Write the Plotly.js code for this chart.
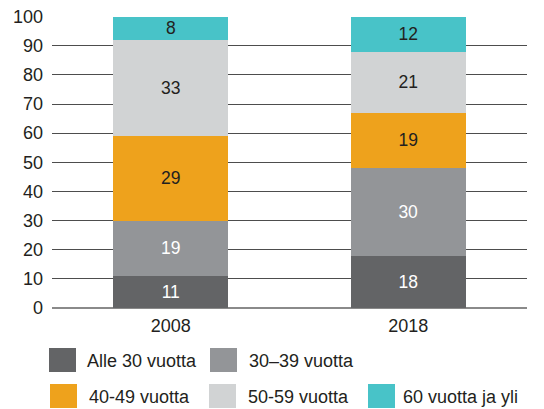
<!DOCTYPE html>
<html><head><meta charset="utf-8">
<script src="https://cdn.plot.ly/plotly-3.0.1.min.js"></script>
<style>html,body{margin:0;padding:0;background:#fff}#chart{width:544px;height:409px}</style>
</head><body><div id="chart"></div>
<script>
var years = ['2008', '2018'];
var seriesNames = ['Alle 30 vuotta', '30–39 vuotta', '40-49 vuotta', '50-59 vuotta', '60 vuotta ja yli'];
var alle30 = [11, 18];
var v30_39 = [19, 30];
var v40_49 = [29, 19];
var v50_59 = [33, 21];
var v60 = [8, 12];
var seriesValues = [alle30, v30_39, v40_49, v50_59, v60];
var colors = ['#636466', '#939598', '#EEA21C', '#D1D3D4', '#48C3C8'];
var textColors = ['#ffffff', '#ffffff', '#231f20', '#231f20', '#231f20'];
var yTicks = [0,10,20,30,40,50,60,70,80,90,100];

var FONT = 'Liberation Sans, Arial, sans-serif';
var traces = seriesValues.map(function(vals, i){
  return {
    type: 'bar', x: years, y: vals, name: seriesNames[i],
    marker: {color: colors[i], line: {width: 0}},
    text: vals.map(String), textposition: 'inside', insidetextanchor: 'middle',
    textangle: 0, constraintext: 'none',
    textfont: {family: FONT, size: 17.5, color: textColors[i]},
    hoverinfo: 'none', showlegend: false
  };
});

// custom legend (paper coords): plot area x 52..527, y 16..308
var L = 52, W = 475, B = 308, H = 292;
function px(x){ return (x - L) / W; }
function py(y){ return (B - y) / H; }
var legendPos = [
  {sx: 49, sy: 348, tx: 85, ty: 361},
  {sx: 210, sy: 348, tx: 247, ty: 361},
  {sx: 50, sy: 384, tx: 87, ty: 397},
  {sx: 209, sy: 384, tx: 246, ty: 397},
  {sx: 368, sy: 384, tx: 401, ty: 397}
];
var shapes = [], annotations = [];
legendPos.forEach(function(p, i){
  shapes.push({type: 'rect', xref: 'paper', yref: 'paper',
    x0: px(p.sx), x1: px(p.sx + 27), y0: py(p.sy + 24), y1: py(p.sy),
    fillcolor: colors[i], line: {width: 0}});
  annotations.push({xref: 'paper', yref: 'paper', x: px(p.tx), y: py(p.ty),
    xanchor: 'left', yanchor: 'middle', showarrow: false, text: seriesNames[i],
    font: {family: FONT, size: 18, color: '#231f20'}});
});

var layout = {
  width: 544, height: 409,
  margin: {l: 52, r: 17, t: 16, b: 101},
  barmode: 'stack', bargap: 0.516,
  paper_bgcolor: '#fff', plot_bgcolor: '#fff',
  font: {family: FONT, size: 18, color: '#231f20'},
  xaxis: {type: 'category', showgrid: false, showline: false, ticks: '',
    ticklabelstandoff: 5,
    tickfont: {family: FONT, size: 18, color: '#231f20'}, fixedrange: true},
  yaxis: {range: [0, 100.2], tickvals: yTicks, ticktext: yTicks.map(String),
    showgrid: true, gridcolor: '#4d4d4d', gridwidth: 1,
    zeroline: true, zerolinecolor: '#8a8a8a', zerolinewidth: 2,
    showline: false, ticks: '', ticklabelstandoff: 8,
    tickfont: {family: FONT, size: 18, color: '#231f20'}, fixedrange: true},
  shapes: shapes, annotations: annotations,
  showlegend: false
};
Plotly.newPlot('chart', traces, layout, {displayModeBar: false, staticPlot: true});
</script></body></html>
